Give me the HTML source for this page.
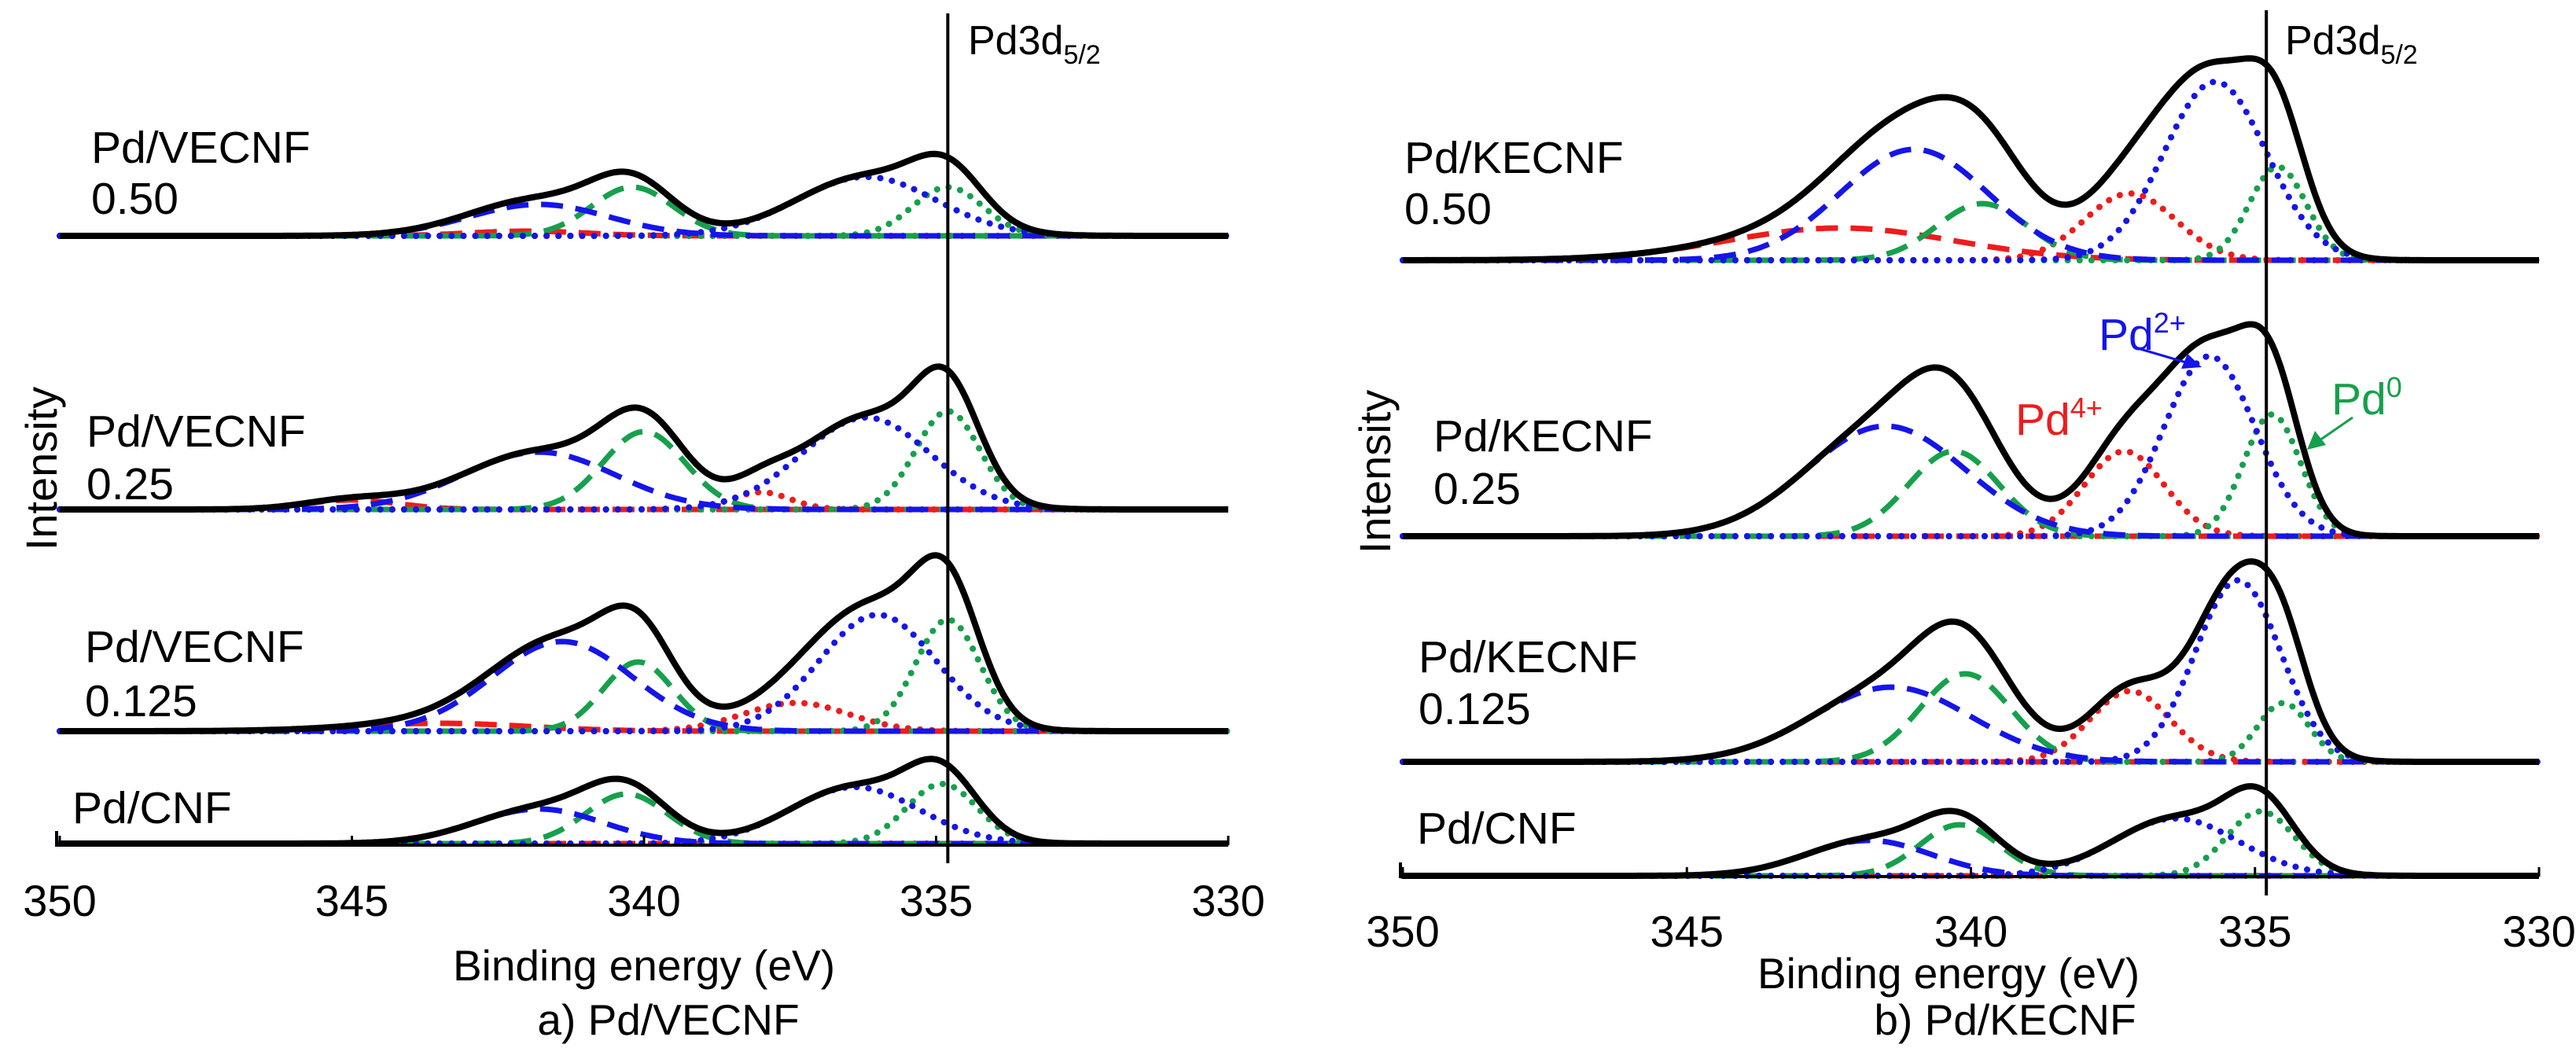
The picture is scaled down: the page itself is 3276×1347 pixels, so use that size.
<!DOCTYPE html>
<html><head><meta charset="utf-8"><style>
html,body{margin:0;padding:0;background:#fff;}
svg{display:block;font-family:"Liberation Sans",Arial,sans-serif;}
</style></head><body>
<svg id="chart" width="3276" height="1347" viewBox="0 0 3276 1347" xmlns="http://www.w3.org/2000/svg">
<rect width="3276" height="1347" fill="#fff"/>
<g id="panelA"></g>
<g id="panelB"></g>
<g font-size="57" fill="#000">
  <text x="116" y="207">Pd/VECNF</text>
  <text x="116" y="272">0.50</text>
  <text x="110" y="568">Pd/VECNF</text>
  <text x="110" y="635">0.25</text>
  <text x="108" y="842">Pd/VECNF</text>
  <text x="108" y="911">0.125</text>
  <text x="92" y="1047">Pd/CNF</text>
  <text transform="translate(72,596) rotate(-90)" text-anchor="middle" font-size="56">Intensity</text>
  <text x="819" y="1247" text-anchor="middle" font-size="55">Binding energy (eV)</text>
  <text x="850" y="1316" text-anchor="middle" font-size="55">a) Pd/VECNF</text>
  <text x="1231" y="69" font-size="52">Pd3d<tspan font-size="34" dy="12">5/2</tspan></text>
</g>
<g font-size="57" fill="#000">
  <text x="1786" y="220">Pd/KECNF</text>
  <text x="1786" y="285">0.50</text>
  <text x="1823" y="574">Pd/KECNF</text>
  <text x="1823" y="641">0.25</text>
  <text x="1804" y="855">Pd/KECNF</text>
  <text x="1804" y="921">0.125</text>
  <text x="1802" y="1073">Pd/CNF</text>
  <text transform="translate(1768,600) rotate(-90)" text-anchor="middle" font-size="56">Intensity</text>
  <text x="2478" y="1257" text-anchor="middle" font-size="55">Binding energy (eV)</text>
  <text x="2550" y="1316" text-anchor="middle" font-size="55">b) Pd/KECNF</text>
  <text x="2906" y="69" font-size="52">Pd3d<tspan font-size="34" dy="12">5/2</tspan></text>
  <text x="2669" y="445" fill="#1515e8">Pd<tspan font-size="36" dy="-22">2+</tspan></text>
  <text x="2563" y="553" fill="#ee1c1c">Pd<tspan font-size="36" dy="-22">4+</tspan></text>
  <text x="2965" y="527" fill="#16a04c">Pd<tspan font-size="36" dy="-22">0</tspan></text>
  <line x1="2722" y1="444" x2="2780" y2="461" stroke="#1515e8" stroke-width="3"/>
  <polygon points="2800,467 2774,469 2782,450" fill="#1515e8"/>
  <line x1="2992" y1="531" x2="2950" y2="560" stroke="#16a04c" stroke-width="3"/>
  <polygon points="2934,572 2944,548 2958,566" fill="#16a04c"/>
</g>
</svg>
<script>
// component order: Pd0 3d5/2, Pd2+ 3d5/2, Pd4+ 3d5/2, Pd0 3d3/2, Pd2+ 3d3/2, Pd4+ 3d3/2
const componentNames = ["pd0-3d52","pd2-3d52","pd4-3d52","pd0-3d32","pd2-3d32","pd4-3d32"];
const xTicks = [350, 345, 340, 335, 330];
const refLineEnergy = 334.8;

// Panel A (Pd/VECNF) — offsets in intensity units
const aSamples = ["Pd/VECNF 0.50","Pd/VECNF 0.25","Pd/VECNF 0.125","Pd/CNF"];
const aOffsets = [775, 427, 145, 2];
const aCenters050 = [334.8,336.2,337.5,340.2,341.8,342.0];
const aHeights050 = [62,75,0,62,40,6];
const aWidths050  = [0.6,1.2,0.8,0.7,1.2,1.0];
const aCenters025 = [334.8,336.2,338.0,340.0,341.8,345.0];
const aHeights025 = [125,117,22,99,73,12];
const aWidths025  = [0.55,1.1,0.5,0.7,1.3,0.8];
const aCenters0125 = [334.8,336.0,337.4,340.1,341.4,343.5];
const aHeights0125 = [142,148,36,88,114,10];
const aWidths0125  = [0.55,1.0,0.9,0.6,1.2,1.5];
const aCentersCNF = [334.9,336.4,337.5,340.3,341.8,342.5];
const aHeightsCNF = [76,72,0,63,44,0];
const aWidthsCNF  = [0.6,1.1,0.8,0.7,1.1,1.0];

// Panel B (Pd/KECNF)
const bSamples = ["Pd/KECNF 0.50","Pd/KECNF 0.25","Pd/KECNF 0.125","Pd/CNF"];
const bOffsets = [784, 433, 146, 1];
const bCenters050 = [334.6,335.7,337.2,339.8,341.0,342.3];
const bHeights050 = [119,227,85,72,141,41];
const bWidths050  = [0.5,0.9,0.8,0.8,1.3,2.0];
const bCenters025 = [334.7,335.8,337.3,340.3,341.5,342.0];
const bHeights025 = [155,229,108,108,140,0];
const bWidths025  = [0.5,0.8,0.7,0.8,1.4,1.0];
const bCenters0125 = [334.5,335.3,337.2,340.1,341.4,342.0];
const bHeights0125 = [75,231,90,112,95,0];
const bWidths0125  = [0.45,0.75,0.7,0.8,1.4,1.0];
const bCentersCNF = [334.9,336.4,337.5,340.2,341.8,342.0];
const bHeightsCNF = [82,73,0,65,45,0];
const bWidthsCNF  = [0.6,1.1,0.8,0.7,1.1,1.0];

const NS = "http://www.w3.org/2000/svg";
const lineStyles = [
  {c:"#16a04c", d:"0.1 15"},{c:"#1515e8", d:"0.1 15"},{c:"#ee1c1c", d:"0.1 15"},
  {c:"#16a04c", d:"28 16"},{c:"#1515e8", d:"28 16"},{c:"#ee1c1c", d:"28 16"}
];

function makeX(x350, x330){ return function(e){ return x350 + (350 - e) * (x330 - x350) / 20; }; }
function makeY(y0){ return function(v){ return y0 - v; }; }
function gauss(e,c,h,w){ return h*Math.exp(-((e-c)*(e-c))/(2*w*w)); }

function drawPanel(gid, panel, xs, ys, offsets, centers, heights, widths, axisY, axisX1, axisX2, tickY, lineTop, lineBottom){
  const root = document.getElementById(gid);
  for(let s=0;s<offsets.length;s++){
    const grp = document.createElementNS(NS,"g");
    
    
    root.appendChild(grp);
    const order=[5,2,3,0,4,1];
    for(const k of order){
      let d="";
      for(let i=0;i<=400;i++){
        const e=350-i*0.05;
        const v=offsets[s]+gauss(e,centers[s][k],heights[s][k],widths[s][k]);
        d+=(i?"L":"M")+xs(e).toFixed(1)+" "+ys(v).toFixed(1);
      }
      const p=document.createElementNS(NS,"path");
      p.setAttribute("d",d);p.setAttribute("fill","none");
      p.setAttribute("stroke",lineStyles[k].c);p.setAttribute("stroke-width",k<3?"8":"7");
      p.setAttribute("stroke-dasharray",lineStyles[k].d);p.setAttribute("stroke-linecap",k<3?"round":"butt");
      
      
      grp.appendChild(p);
    }
    let d="";
    for(let i=0;i<=400;i++){
      const e=350-i*0.05;
      let v=offsets[s];
      for(let k=0;k<6;k++) v+=gauss(e,centers[s][k],heights[s][k],widths[s][k]);
      d+=(i?"L":"M")+xs(e).toFixed(1)+" "+ys(v).toFixed(1);
    }
    const p=document.createElementNS(NS,"path");
    p.setAttribute("d",d);p.setAttribute("fill","none");
    p.setAttribute("stroke","#000");p.setAttribute("stroke-width","8");p.setAttribute("stroke-linejoin","round");
    
    
    grp.appendChild(p);
  }
  const ax=document.createElementNS(NS,"path");
  ax.setAttribute("d","M"+axisX1+" "+(axisY-18)+"V"+axisY+"H"+axisX2);
  ax.setAttribute("stroke","#000");ax.setAttribute("stroke-width","4");ax.setAttribute("fill","none");
  
  
  root.appendChild(ax);
  for(const t of xTicks){
    const tk=document.createElementNS(NS,"line");
    tk.setAttribute("x1",xs(t));tk.setAttribute("x2",xs(t));
    tk.setAttribute("y1",axisY);tk.setAttribute("y2",axisY-12);
    tk.setAttribute("stroke","#000");tk.setAttribute("stroke-width","3");
    
    
    root.appendChild(tk);
    const tx=document.createElementNS(NS,"text");
    tx.setAttribute("x",xs(t));tx.setAttribute("y",tickY);
    tx.setAttribute("text-anchor","middle");tx.setAttribute("font-size","56");
    tx.textContent=t;
    
    
    root.appendChild(tx);
  }
  const rl=document.createElementNS(NS,"line");
  rl.setAttribute("x1",xs(refLineEnergy));rl.setAttribute("x2",xs(refLineEnergy));
  rl.setAttribute("y1",lineTop);rl.setAttribute("y2",lineBottom);
  rl.setAttribute("stroke","#000");rl.setAttribute("stroke-width","4");
  
  
  root.appendChild(rl);
}

drawPanel("panelA","a",makeX(76,1562),makeY(1075),aOffsets,
  [aCenters050,aCenters025,aCenters0125,aCentersCNF],
  [aHeights050,aHeights025,aHeights0125,aHeightsCNF],
  [aWidths050,aWidths025,aWidths0125,aWidthsCNF],1075,72,1562,1165,17,1098);
drawPanel("panelB","b",makeX(1784,3229),makeY(1115),bOffsets,
  [bCenters050,bCenters025,bCenters0125,bCentersCNF],
  [bHeights050,bHeights025,bHeights0125,bHeightsCNF],
  [bWidths050,bWidths025,bWidths0125,bWidthsCNF],1115,1781,3229,1204,13,1139);
</script>
</body></html>
